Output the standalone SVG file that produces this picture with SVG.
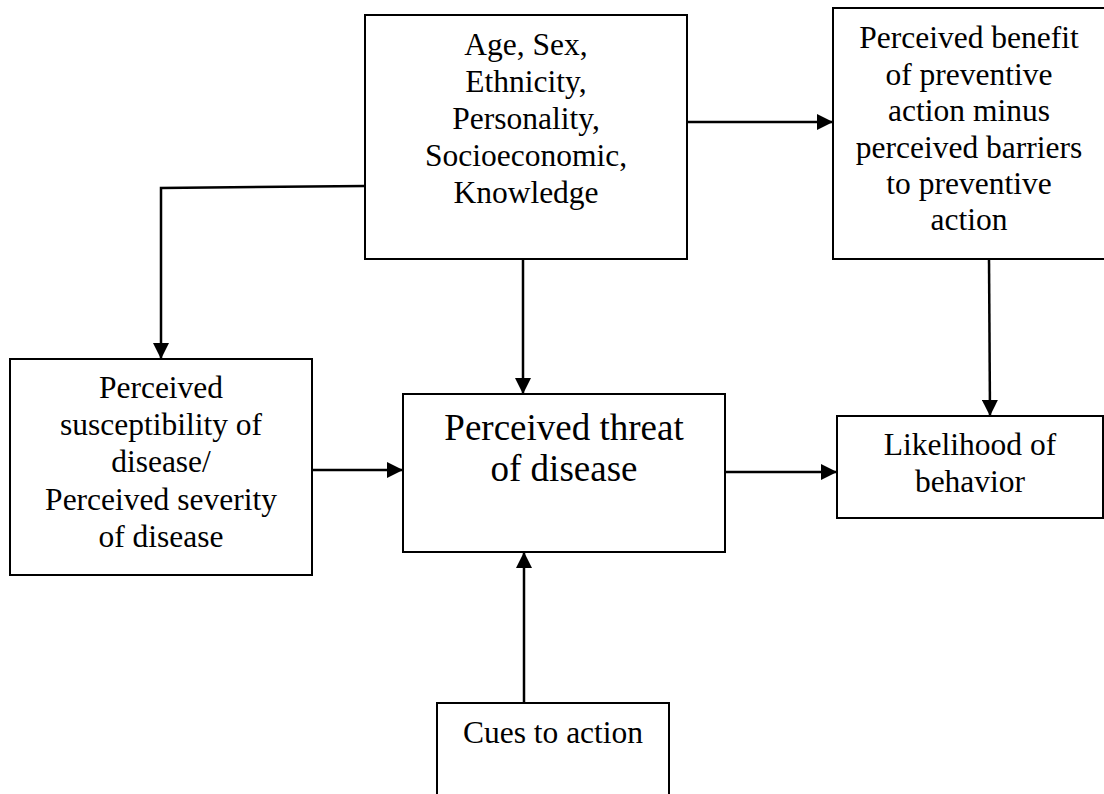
<svg xmlns="http://www.w3.org/2000/svg" width="1104" height="794" viewBox="0 0 1104 794">
  <style>
    .box { fill: #ffffff; stroke: #000000; stroke-width: 2; }
    .t { font-family: "Liberation Serif", "Times New Roman", serif; font-size: 31.5px; fill: #000000; text-anchor: middle; }
    .tl { font-family: "Liberation Serif", "Times New Roman", serif; font-size: 37px; fill: #000000; text-anchor: middle; }
    .c { fill: none; stroke: #000000; stroke-width: 2.5; }
  </style>
  <defs>
    <marker id="arr" markerUnits="userSpaceOnUse" markerWidth="18" markerHeight="16" refX="16" refY="8" orient="auto">
      <path d="M0,0 L16,8 L0,16 Z" fill="#000000"/>
    </marker>
  </defs>
  <rect x="0" y="0" width="1104" height="794" fill="#ffffff"/>

  <g id="connectors">
    <polyline class="c" points="365,186 161,188 161,359" marker-end="url(#arr)"/>
    <line class="c" x1="523" y1="259" x2="523" y2="394" marker-end="url(#arr)"/>
    <line class="c" x1="687" y1="122" x2="833" y2="122" marker-end="url(#arr)"/>
    <line class="c" x1="989" y1="259" x2="990" y2="416" marker-end="url(#arr)"/>
    <line class="c" x1="312" y1="470" x2="403" y2="470" marker-end="url(#arr)"/>
    <line class="c" x1="725" y1="472" x2="837" y2="472" marker-end="url(#arr)"/>
    <line class="c" x1="524" y1="703" x2="524" y2="552" marker-end="url(#arr)"/>
  </g>

  <g id="node-demographics">
    <rect class="box" x="365" y="15" width="322" height="244"/>
    <text class="t" x="526" y="55">Age, Sex,</text>
    <text class="t" x="526" y="92">Ethnicity,</text>
    <text class="t" x="526" y="129">Personality,</text>
    <text class="t" x="526" y="166">Socioeconomic,</text>
    <text class="t" x="526" y="203">Knowledge</text>
  </g>

  <g id="node-benefits">
    <rect class="box" x="833" y="8" width="273" height="251"/>
    <text class="t" x="969" y="48">Perceived benefit</text>
    <text class="t" x="969" y="84.5">of preventive</text>
    <text class="t" x="969" y="121">action minus</text>
    <text class="t" x="969" y="157.5">perceived barriers</text>
    <text class="t" x="969" y="194">to preventive</text>
    <text class="t" x="969" y="230">action</text>
  </g>

  <g id="node-susceptibility">
    <rect class="box" x="10" y="359" width="302" height="216"/>
    <text class="t" x="161" y="398">Perceived</text>
    <text class="t" x="161" y="435">susceptibility of</text>
    <text class="t" x="161" y="472">disease/</text>
    <text class="t" x="161" y="510">Perceived severity</text>
    <text class="t" x="161" y="547">of disease</text>
  </g>

  <g id="node-threat">
    <rect class="box" x="403" y="394" width="322" height="158"/>
    <text class="tl" x="564" y="440">Perceived threat</text>
    <text class="tl" x="564" y="481">of disease</text>
  </g>

  <g id="node-likelihood">
    <rect class="box" x="837" y="416" width="266" height="102"/>
    <text class="t" x="970" y="455">Likelihood of</text>
    <text class="t" x="970" y="492">behavior</text>
  </g>

  <g id="node-cues">
    <rect class="box" x="437" y="703" width="232" height="94"/>
    <text class="t" x="553" y="743">Cues to action</text>
  </g>
</svg>
